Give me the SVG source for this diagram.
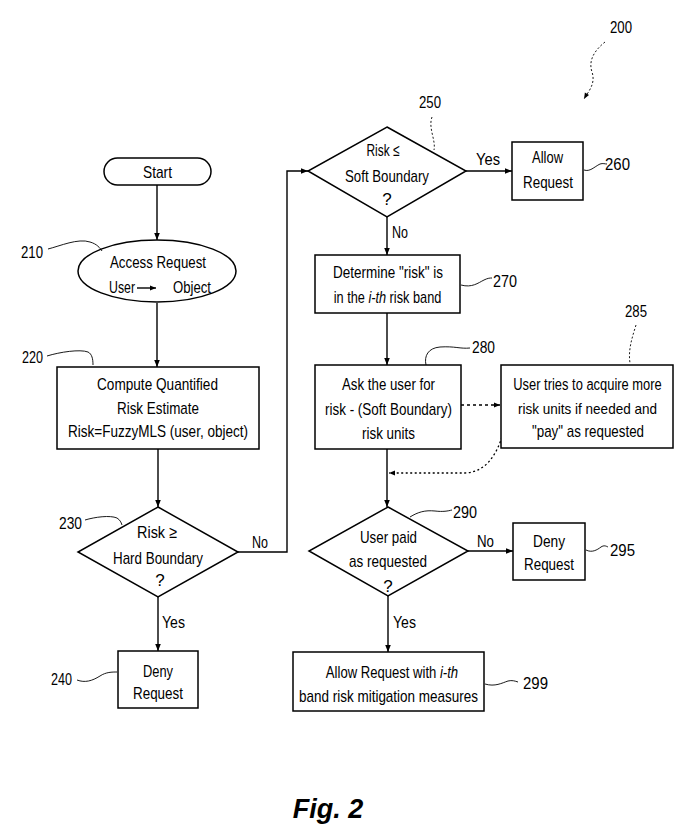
<svg xmlns="http://www.w3.org/2000/svg" width="680" height="829" viewBox="0 0 680 829">
<style>
.s{fill:#fff;stroke:#000;stroke-width:1.5}
.c{fill:none;stroke:#000;stroke-width:1.4}
.d{fill:none;stroke:#000;stroke-width:1.3;stroke-dasharray:3 3}
.o{fill:none;stroke:#000;stroke-width:1.3;stroke-dasharray:2 2.5}
.l{fill:none;stroke:#000;stroke-width:0.9}
.ld{fill:none;stroke:#000;stroke-width:0.9;stroke-dasharray:2 2}
text{font-family:"Liberation Sans Narrow","Liberation Sans",Arial,sans-serif;font-size:17px;fill:#000}
.m{text-anchor:middle}
.i{font-style:italic}
.sm{font-size:15px}
.fig{font-family:"Liberation Sans",Arial,sans-serif;font-size:27px;font-weight:bold;font-style:italic}
</style>
<defs>
<marker id="ah" viewBox="0 0 10 10" refX="10" refY="5" markerWidth="8" markerHeight="7" orient="auto" markerUnits="userSpaceOnUse"><path d="M0,1 L10,5 L0,9 z" fill="#000"/></marker>
<marker id="ah2" viewBox="0 0 10 10" refX="10" refY="5" markerWidth="7" markerHeight="6" orient="auto" markerUnits="userSpaceOnUse"><path d="M0,1 L10,5 L0,9 z" fill="#000"/></marker>
</defs>

<g id="connectors">
<path class="c" d="M157,185 V240" marker-end="url(#ah)"/>
<path class="c" d="M157,303 V367" marker-end="url(#ah)"/>
<path class="c" d="M158,449 V507" marker-end="url(#ah)"/>
<path class="c" d="M158,597 V651" marker-end="url(#ah)"/>
<path class="c" d="M238,552 H287 V171 H308" marker-end="url(#ah)"/>
<path class="c" d="M466,171 H512" marker-end="url(#ah)"/>
<path class="c" d="M387,217 V255" marker-end="url(#ah)"/>
<path class="c" d="M387,313 V365" marker-end="url(#ah)"/>
<path class="c" d="M387,449 V507" marker-end="url(#ah)"/>
<path class="d" d="M461,405 H500" marker-end="url(#ah2)"/>
<path class="o" d="M502,437 C496,455 486,472 465,473 H389" marker-end="url(#ah2)"/>
<path class="c" d="M468,551 H513" marker-end="url(#ah)"/>
<path class="c" d="M388,596 V652" marker-end="url(#ah)"/>
<text x="252" y="548" textLength="16" lengthAdjust="spacingAndGlyphs">No</text>
<text x="162" y="628" textLength="23" lengthAdjust="spacingAndGlyphs">Yes</text>
<text x="476" y="165" textLength="24" lengthAdjust="spacingAndGlyphs">Yes</text>
<text x="392" y="238" textLength="16" lengthAdjust="spacingAndGlyphs">No</text>
<text x="477" y="547" textLength="17" lengthAdjust="spacingAndGlyphs">No</text>
<text x="393" y="628" textLength="23" lengthAdjust="spacingAndGlyphs">Yes</text>
</g>

<g id="start">
<rect class="s" x="104" y="158" width="107" height="27" rx="13.5"/>
<text class="m" x="157.5" y="178" textLength="29" lengthAdjust="spacingAndGlyphs">Start</text>
</g>

<g id="n210">
<ellipse class="s" cx="157" cy="271" rx="79" ry="31"/>
<text class="m" x="158" y="268" textLength="96" lengthAdjust="spacingAndGlyphs">Access Request</text>
<text x="109" y="293" textLength="26" lengthAdjust="spacingAndGlyphs">User</text>
<path class="c" d="M137,288 H156" marker-end="url(#ah2)"/>
<text x="173" y="293" textLength="38" lengthAdjust="spacingAndGlyphs">Object</text>
<path class="l" d="M48,249 C60,246 78,238 90,242 C97,244 100,248 102,251"/>
<text x="21" y="258" textLength="22" lengthAdjust="spacingAndGlyphs">210</text>
</g>

<g id="n220">
<rect class="s" x="57" y="367" width="202" height="82"/>
<text class="m" x="157.5" y="390" textLength="121" lengthAdjust="spacingAndGlyphs">Compute Quantified</text>
<text class="m" x="158" y="414" textLength="82" lengthAdjust="spacingAndGlyphs">Risk Estimate</text>
<text class="m" x="158" y="437" textLength="180" lengthAdjust="spacingAndGlyphs">Risk=FuzzyMLS (user, object)</text>
<path class="l" d="M47,356 C60,352 80,349 88,352 C92,354 93,359 93,365"/>
<text x="22" y="363" textLength="21" lengthAdjust="spacingAndGlyphs">220</text>
</g>

<g id="n230">
<polygon class="s" points="158,507 238,552 158,597 78,552"/>
<text class="m" x="157" y="538" textLength="40" lengthAdjust="spacingAndGlyphs">Risk ≥</text>
<text class="m" x="158" y="564" textLength="90" lengthAdjust="spacingAndGlyphs">Hard Boundary</text>
<text class="m" x="160" y="586">?</text>
<path class="l" d="M85,520 C95,517 110,515 117,518 C120,520 121,522 122,525"/>
<text x="59" y="529" textLength="23" lengthAdjust="spacingAndGlyphs">230</text>
</g>

<g id="n240">
<rect class="s" x="118" y="651" width="80" height="57"/>
<text class="m" x="158" y="677" textLength="30" lengthAdjust="spacingAndGlyphs">Deny</text>
<text class="m" x="158" y="699" textLength="50" lengthAdjust="spacingAndGlyphs">Request</text>
<path class="l" d="M77,680 C85,683 92,681 100,676 C106,672 112,672 117,672"/>
<text x="51" y="685" textLength="21" lengthAdjust="spacingAndGlyphs">240</text>
</g>

<g id="n250">
<polygon class="s" points="387,127 466,171 387,217 308,171"/>
<text class="m" x="383" y="156" textLength="33" lengthAdjust="spacingAndGlyphs">Risk ≤</text>
<text class="m" x="387" y="182" textLength="84" lengthAdjust="spacingAndGlyphs">Soft Boundary</text>
<text class="m" x="387" y="205">?</text>
<path class="ld" d="M432,117 C428,128 436,140 434,150"/>
<text x="419" y="108" textLength="22" lengthAdjust="spacingAndGlyphs">250</text>
</g>

<g id="n260">
<rect class="s" x="512" y="142" width="71" height="58"/>
<text class="m" x="547.5" y="163" textLength="31" lengthAdjust="spacingAndGlyphs">Allow</text>
<text class="m" x="548" y="188" textLength="50" lengthAdjust="spacingAndGlyphs">Request</text>
<path class="l" d="M584,170 C590,172 594,167 600,164 C603,163 605,164 607,164"/>
<text x="605" y="170" textLength="25" lengthAdjust="spacingAndGlyphs">260</text>
</g>

<g id="n270">
<rect class="s" x="315" y="255" width="145" height="58"/>
<text class="m" x="388" y="278" textLength="110" lengthAdjust="spacingAndGlyphs">Determine "risk" is</text>
<text class="m" transform="translate(387.5,303) scale(0.75,1)" x="0" y="0">in the <tspan class="i">i-th</tspan> risk band</text>
<path class="l" d="M461,285 C472,288 478,283 484,280 C488,278 490,278 492,278"/>
<text x="493" y="287" textLength="24" lengthAdjust="spacingAndGlyphs">270</text>
</g>

<g id="n280">
<rect class="s" x="315" y="365" width="146" height="84"/>
<text class="m" x="388.5" y="390" textLength="93" lengthAdjust="spacingAndGlyphs">Ask the user for</text>
<text class="m" x="388.5" y="415" textLength="127" lengthAdjust="spacingAndGlyphs">risk - (Soft Boundary)</text>
<text class="m" x="388.5" y="439" textLength="53" lengthAdjust="spacingAndGlyphs">risk units</text>
<path class="l" d="M426,365 C424,356 428,348 440,347 C455,346 460,349 470,348"/>
<text x="472" y="353" textLength="23" lengthAdjust="spacingAndGlyphs">280</text>
</g>

<g id="n285">
<rect class="s" x="501" y="365" width="172" height="83"/>
<text class="m" transform="translate(587.5,390) scale(0.76,1)" x="0" y="0">User tries to acquire more</text>
<text class="m sm" x="587.5" y="414" textLength="139" lengthAdjust="spacingAndGlyphs">risk units if needed and</text>
<text class="m" x="588" y="437" textLength="112" lengthAdjust="spacingAndGlyphs">"pay" as requested</text>
<path class="ld" d="M636,325 C632,338 628,350 630,363"/>
<text x="625" y="317" textLength="22" lengthAdjust="spacingAndGlyphs">285</text>
</g>

<g id="n290">
<polygon class="s" points="388,507 468,551 388,596 309,551"/>
<text class="m" x="388.5" y="543" textLength="57" lengthAdjust="spacingAndGlyphs">User paid</text>
<text class="m" x="388" y="567" textLength="78" lengthAdjust="spacingAndGlyphs">as requested</text>
<text class="m" x="388" y="592">?</text>
<path class="l" d="M410,517 C418,512 425,510 435,511 C443,512 448,511 452,510"/>
<text x="453" y="518" textLength="24" lengthAdjust="spacingAndGlyphs">290</text>
</g>

<g id="n295">
<rect class="s" x="513" y="523" width="72" height="57"/>
<text class="m" x="549" y="547" textLength="32" lengthAdjust="spacingAndGlyphs">Deny</text>
<text class="m" x="549" y="570" textLength="50" lengthAdjust="spacingAndGlyphs">Request</text>
<path class="l" d="M586,550 C592,553 597,550 601,547 C604,545 606,546 608,547"/>
<text x="610" y="556" textLength="25" lengthAdjust="spacingAndGlyphs">295</text>
</g>

<g id="n299">
<rect class="s" x="293" y="652" width="191" height="59"/>
<text class="m" transform="translate(392,678) scale(0.77,1)" x="0" y="0">Allow Request with <tspan class="i">i-th</tspan></text>
<text class="m" x="388.5" y="702" textLength="179" lengthAdjust="spacingAndGlyphs">band risk mitigation measures</text>
<path class="l" d="M485,684 C495,687 502,683 508,681 C512,680 515,681 518,682"/>
<text x="523" y="689" textLength="25" lengthAdjust="spacingAndGlyphs">299</text>
</g>

<g id="n200">
<text x="610" y="33" textLength="22" lengthAdjust="spacingAndGlyphs">200</text>
<path class="ld" d="M605,42 C595,50 588,60 592,72 C596,84 588,92 584,99" marker-end="url(#ah2)"/>
</g>

<text class="fig" x="328" y="818" text-anchor="middle">Fig. 2</text>
</svg>
